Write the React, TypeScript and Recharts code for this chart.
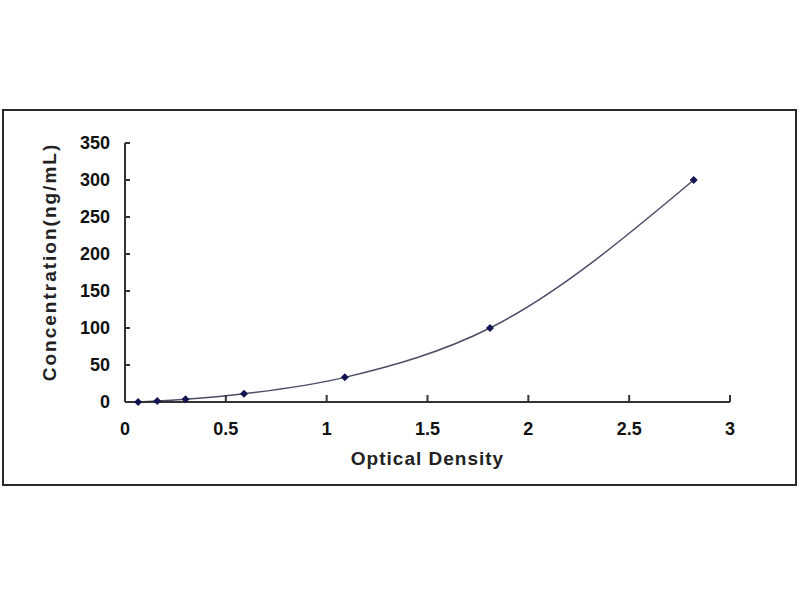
import React from 'react';
import { ComposedChart, Line, XAxis, YAxis } from 'recharts';

const opticalDensity = [0.065, 0.16, 0.3, 0.59, 1.09, 1.81, 2.82];
const concentration = [0, 1.23, 3.7, 11.1, 33.3, 100, 300];
const xTicks = [0, 0.5, 1, 1.5, 2, 2.5, 3];
const yTicks = [0, 50, 100, 150, 200, 250, 300, 350];

const data = opticalDensity.map((od, i) => ({ od, conc: concentration[i] }));

const FONT = '"Liberation Sans", Arial, sans-serif';

const Diamond = (props: any) => {
  const { cx, cy } = props;
  if (cx == null || cy == null) return null;
  const r = 4;
  return (
    <path
      d={`M${cx},${cy - r}L${cx + r},${cy}L${cx},${cy + r}L${cx - r},${cy}Z`}
      fill="#141450"
      stroke="none"
    />
  );
};

const YLabel = () => (
  <text
    x={49}
    y={262}
    transform="rotate(-90, 49, 262)"
    textAnchor="middle"
    dominantBaseline="central"
    fontFamily={FONT}
    fontWeight="bold"
    fontSize={19}
    letterSpacing={2}
    fill="#222"
  >
    Concentration(ng/mL)
  </text>
);

export default function App() {
  return (
    <div style={{ position: 'absolute', left: 0, top: 0, width: 800, height: 600, background: '#fff' }}>
      <div
        style={{
          position: 'absolute',
          left: 2,
          top: 109,
          width: 791,
          height: 373,
          border: '2px solid #2a2a2a',
        }}
      />
      <div style={{ position: 'absolute', left: 0, top: 0 }}>
        <ComposedChart
          width={800}
          height={600}
          data={data}
          margin={{ top: 143, right: 70, bottom: 168, left: 65 }}
        >
          <XAxis
            dataKey="od"
            type="number"
            domain={[0, 3]}
            ticks={xTicks}
            height={30}
            axisLine={{ stroke: '#333', strokeWidth: 2 }}
            tickLine={{ stroke: '#333', strokeWidth: 2 }}
            tickSize={-7}
            tickMargin={27}
            tick={{ fontFamily: FONT, fontWeight: 'bold', fontSize: 18, fill: '#111' }}
            label={{
              value: 'Optical Density',
              position: 'bottom',
              offset: 20,
              fontFamily: FONT,
              fontWeight: 'bold',
              fontSize: 19,
              letterSpacing: 1,
              fill: '#222',
            }}
          />
          <YAxis
            type="number"
            domain={[0, 350]}
            ticks={yTicks}
            width={60}
            axisLine={{ stroke: '#333', strokeWidth: 2 }}
            tickLine={{ stroke: '#333', strokeWidth: 2 }}
            tickSize={-5}
            tickMargin={20}
            tick={{ fontFamily: FONT, fontWeight: 'bold', fontSize: 18, fill: '#111' }}
            label={{ content: () => <YLabel /> }}
          />
          <Line
            dataKey="conc"
            type="monotone"
            stroke="#4a4f66"
            strokeWidth={1.5}
            dot={<Diamond />}
            activeDot={false}
            isAnimationActive={false}
          />
        </ComposedChart>
      </div>
    </div>
  );
}
